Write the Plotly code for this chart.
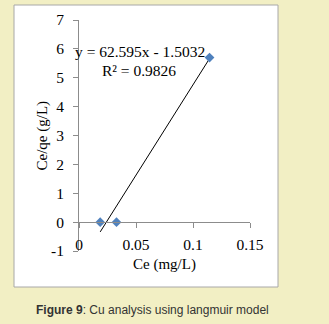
import plotly.graph_objects as go

# Data
ce = [0.0186, 0.0329, 0.1145]
ce_qe = [0.0, 0.0, 5.7]
slope = 62.595
intercept = -1.5032
eq_text = "y = 62.595x - 1.5032"
r2_text = "R² = 0.9826"
x_ticks = [0, 0.05, 0.1, 0.15]
x_tick_labels = ["0", "0.05", "0.1", "0.15"]
y_ticks = [-1, 0, 1, 2, 3, 4, 5, 6, 7]
y_tick_labels = ["-1", "0", "1", "2", "3", "4", "5", "6", "7"]
caption_bold = "Figure 9"
caption_rest = ": Cu analysis using langmuir model"

W, H = 329, 324
L, R, T, B = 79, 79, 20, 73
pw = W - L - R
ph = H - T - B

def px_to_paper_x(px):
    return (px - L) / pw

def px_to_paper_y(py):
    return (H - B - py) / ph

trend_x = [min(ce), max(ce)]
trend_y = [slope * v + intercept for v in trend_x]

serif = "Liberation Serif"
axis_col = "#8c8c8c"

fig = go.Figure()
fig.add_trace(go.Scatter(x=trend_x, y=trend_y, mode="lines",
                         line=dict(color="black", width=1), showlegend=False,
                         hoverinfo="skip"))
fig.add_trace(go.Scatter(x=ce, y=ce_qe, mode="markers",
                         marker=dict(symbol="diamond", size=7.5, color="#4F81BD"),
                         showlegend=False))

fig.update_layout(
    width=W, height=H,
    margin=dict(l=L, r=R, t=T, b=B),
    paper_bgcolor="#F2EFC4",
    plot_bgcolor="rgba(0,0,0,0)",
    font=dict(family=serif, size=15, color="black"),
    xaxis=dict(range=[0, 0.15], tickvals=x_ticks, ticktext=x_tick_labels,
               showgrid=False, zeroline=False, showline=True, linecolor=axis_col,
               linewidth=1, ticks="outside", ticklen=5, tickcolor=axis_col,
               anchor="free", position=1/8, ticklabelstandoff=3,
               tickfont=dict(family=serif, size=15.5)),
    yaxis=dict(range=[-1, 7], tickvals=y_ticks, ticktext=y_tick_labels,
               showgrid=False, zeroline=False,
               showline=True, linecolor=axis_col, linewidth=1, ticks="outside",
               ticklen=5, tickcolor=axis_col, ticklabelstandoff=6,
               tickfont=dict(family=serif, size=15.5)),
    shapes=[dict(type="rect", xref="paper", yref="paper",
                 x0=px_to_paper_x(14), x1=px_to_paper_x(278),
                 y0=px_to_paper_y(287), y1=px_to_paper_y(5),
                 fillcolor="white", line=dict(color="#a8a8a8", width=1),
                 layer="below")],
    annotations=[
        dict(text=eq_text, x=0.0532, y=5.92, xref="x", yref="y",
             xanchor="center", yanchor="middle",
             showarrow=False, font=dict(family=serif, size=15.5)),
        dict(text=r2_text, x=0.0525, y=5.26, xref="x", yref="y",
             xanchor="center", yanchor="middle",
             showarrow=False, font=dict(family=serif, size=15.5)),
        dict(text="Ce (mg/L)", x=0.5, y=px_to_paper_y(264), xref="paper", yref="paper",
             xanchor="center", yanchor="middle",
             showarrow=False, font=dict(family=serif, size=15)),
        dict(text="Ce/qe (g/L)", x=px_to_paper_x(42), y=0.5, xref="paper", yref="paper",
             xanchor="center", yanchor="middle",
             textangle=-90, showarrow=False, font=dict(family=serif, size=15)),
        dict(text="<b>" + caption_bold + "</b>" + caption_rest,
             x=px_to_paper_x(152), y=px_to_paper_y(310), xref="paper", yref="paper",
             xanchor="center", yanchor="middle",
             showarrow=False, font=dict(family="Liberation Sans", size=12, color="#333333")),
    ],
)

fig.write_html("out.html")
